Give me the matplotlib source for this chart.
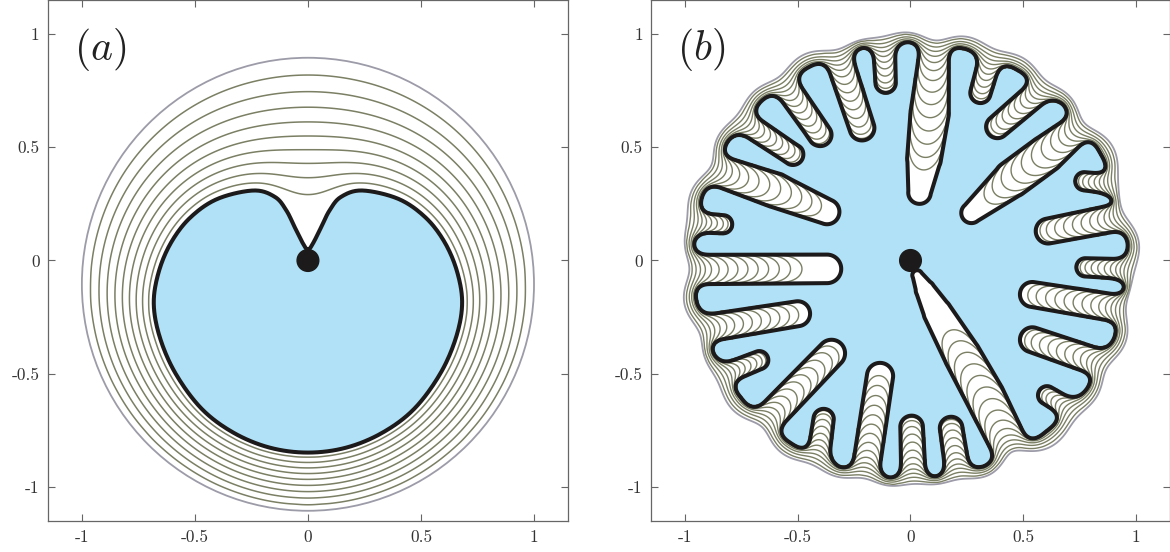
import numpy as np
import matplotlib
matplotlib.use('Agg')
import matplotlib.pyplot as plt
from matplotlib.path import Path
from matplotlib.patches import Circle, Polygon

plt.rcParams['mathtext.fontset'] = 'cm'
plt.rcParams['axes.unicode_minus'] = False

blue = '#b0e1f6'
olive = '#7b7f63'
rim = '#9c9ba8'
ink = '#1c1a1b'

tick_vals = [-1, -0.5, 0, 0.5, 1]
tick_text = ['-1', '-0.5', '0', '0.5', '1']

# (a) right half of the final interface, top of the dip -> bottom; mirrored about x = 0
a_x = [0.0, 0.022, 0.06, 0.095, 0.145, 0.24, 0.40, 0.52, 0.605, 0.66,
       0.682, 0.655, 0.585, 0.47, 0.33, 0.17, 0.0]
a_y = [0.048, 0.075, 0.15, 0.22, 0.28, 0.309, 0.272, 0.19, 0.08, -0.05,
       -0.19, -0.34, -0.50, -0.655, -0.76, -0.826, -0.848]
a_rim = (0.0, -0.105, 1.0)
a_levels = [0.1, 0.2, 0.3, 0.4, 0.5, 0.6, 0.7, 0.8, 0.9]

# (b) white fingers: tip -> ... -> mouth, with half widths
b_fx = [[0.04, 0.06, 0.085, 0.10, 0.11], [-0.11, -0.12], [-0.215, -0.34], [-0.40, -0.58],
        [-0.52, -0.78], [-0.37, -0.60, -0.92], [-0.83, -1.0], [-0.37, -1.0],
        [-0.50, -0.97], [-0.67, -0.87], [-0.35, -0.68], [-0.385, -0.42],
        [-0.135, -0.21], [0.005, 0.015], [0.18, 0.22], [0.03, 0.065, 0.12, 0.23, 0.33, 0.46],
        [0.605, 0.78], [0.54, 0.92], [0.54, 0.97], [0.775, 1.0], [0.61, 0.97],
        [0.77, 0.95], [0.27, 0.45, 0.60, 0.76], [0.385, 0.62], [0.31, 0.37]]
b_fy = [[0.30, 0.45, 0.65, 0.85, 1.0], [0.785, 1.0], [0.585, 0.96], [0.555, 0.81],
        [0.467, 0.64], [0.215, 0.31, 0.42], [0.16, 0.17], [-0.037, -0.04],
        [-0.235, -0.31], [-0.44, -0.52], [-0.41, -0.75], [-0.70, -0.95],
        [-0.51, -1.0], [-0.735, -1.0], [-0.74, -1.0], [-0.065, -0.13, -0.23, -0.42, -0.60, -0.86],
        [-0.595, -0.70], [-0.35, -0.48], [-0.15, -0.22], [-0.03, -0.04], [0.13, 0.20],
        [0.35, 0.33], [0.21, 0.36, 0.47, 0.60], [0.59, 0.79], [0.74, 0.95]]
b_fw = [[0.05, 0.075, 0.085, 0.07, 0.06], [0.045, 0.05], [0.055, 0.06], [0.05, 0.055],
        [0.045, 0.05], [0.055, 0.075, 0.065], [0.04, 0.045], [0.063, 0.065],
        [0.055, 0.06], [0.04, 0.045], [0.06, 0.065], [0.045, 0.05],
        [0.058, 0.06], [0.05, 0.055], [0.05, 0.055], [0.022, 0.042, 0.062, 0.08, 0.085, 0.08],
        [0.04, 0.045], [0.055, 0.06], [0.055, 0.06], [0.04, 0.045], [0.055, 0.06],
        [0.04, 0.045], [0.045, 0.08, 0.08, 0.06], [0.05, 0.055], [0.045, 0.05]]
b_radius = 0.965
b_rim_r = 1.005
b_levels = [0.8, 0.6, 0.42, 0.27, 0.15, 0.07, 0.028, 0.01, 0.0035, 0.0012,
            4e-4, 1.3e-4, 4e-5, 1.2e-5]

dot_r = 0.048
LIM = 1.15


def catmull(px, py, m=16):
    P = np.column_stack([px, py])
    n = len(P)
    t = np.linspace(0, 1, m, endpoint=False)[:, None]
    out = []
    for i in range(n):
        p0, p1, p2, p3 = P[i - 1], P[i], P[(i + 1) % n], P[(i + 2) % n]
        out.append(0.5 * (2 * p1 + (p2 - p0) * t + (2 * p0 - 5 * p1 + 4 * p2 - p3) * t ** 2
                          + (3 * p1 - p0 - 3 * p2 + p3) * t ** 3))
    out = np.vstack(out)
    return np.vstack([out, out[:1]])


def smin(a, b, k):
    h = np.clip(0.5 + 0.5 * (b - a) / k, 0, 1)
    return b * (1 - h) + a * h - k * h * (1 - h)


def finger_sdf(X, Y, xs, ys, ws):
    d = np.full(X.shape, np.inf)
    for k in range(len(xs) - 1):
        vx, vy = xs[k + 1] - xs[k], ys[k + 1] - ys[k]
        t = np.clip(((X - xs[k]) * vx + (Y - ys[k]) * vy) / (vx * vx + vy * vy), 0, 1)
        dist = np.hypot(X - xs[k] - t * vx, Y - ys[k] - t * vy) - (ws[k] + t * (ws[k + 1] - ws[k]))
        d = np.minimum(d, dist)
    return d


def field_b(X, Y):
    # > 0 inside the blue region
    w = b_radius - np.hypot(X, Y)
    for xs, ys, ws in zip(b_fx, b_fy, b_fw):
        w = smin(w, finger_sdf(X, Y, xs, ys, ws), 0.07)
    return w


def blur(m, sigma, h):
    f = np.fft.fftfreq(m.shape[0], d=h)
    g = np.exp(-2 * (np.pi * sigma) ** 2 * (f[:, None] ** 2 + f[None, :] ** 2))
    return np.real(np.fft.ifft2(np.fft.fft2(m) * g))


def upsample(a, n):
    x0 = np.linspace(0, 1, a.shape[0])
    x1 = np.linspace(0, 1, n)
    b = np.array([np.interp(x1, x0, row) for row in a])
    return np.array([np.interp(x1, x0, col) for col in b.T]).T


def sor(phi, free, n_iter):
    n = phi.shape[0]
    om = 2 / (1 + np.sin(np.pi / n))
    ii, jj = np.indices(phi.shape)
    wts = [(free & ((ii + jj) % 2 == c))[1:-1, 1:-1] * om for c in (0, 1)]
    inner = phi[1:-1, 1:-1]
    for _ in range(n_iter):
        for w in wts:
            r = 0.25 * (phi[:-2, 1:-1] + phi[2:, 1:-1] + phi[1:-1, :-2] + phi[1:-1, 2:]) - inner
            inner += w * r


def harmonic(inside, outside, sizes=(101, 201, 401), iters=(700, 500, 900)):
    phi = None
    for n, it in zip(sizes, iters):
        g = np.linspace(-LIM, LIM, n)
        X, Y = np.meshgrid(g, g)
        pts = np.column_stack([X.ravel(), Y.ravel()])
        inn = inside(X, Y, pts)
        out = outside(X, Y, pts)
        phi = np.where(out, 1.0, 0.5) if phi is None else upsample(phi, n)
        phi[inn] = 0.0
        phi[out] = 1.0
        sor(phi, ~(inn | out), it)
    return X, Y, phi


def dress(ax, label):
    ax.set_xlim(-LIM, LIM)
    ax.set_ylim(-LIM, LIM)
    ax.set_xticks(tick_vals)
    ax.set_xticklabels(tick_text, fontfamily='cmr10')
    ax.set_yticks(tick_vals)
    ax.set_yticklabels(tick_text, fontfamily='cmr10')
    ax.tick_params(direction='in', length=5, width=0.8, color='#666666', top=True, right=True,
                   labelsize=12.5, labelcolor='#333333', pad=6)
    for sp in ax.spines.values():
        sp.set_color('#666666')
        sp.set_linewidth(0.9)
    ax.text(-1.035, 0.93, label, fontsize=30, ha='left', va='center', color='#222222')


fig = plt.figure(figsize=(11.7, 5.52), dpi=100)
ax1 = fig.add_axes([0.0410, 0.0562, 0.4444, 0.9438])
ax2 = fig.add_axes([0.5564, 0.0562, 0.4436, 0.9438])

# ---- panel (a)
xs = a_x + [-v for v in a_x[-2:0:-1]]
ys = a_y + a_y[-2:0:-1]
curve_a = catmull(xs, ys)
path_a = Path(curve_a)
cx, cy, cr = a_rim

Xa, Ya, pa = harmonic(lambda X, Y, p: path_a.contains_points(p).reshape(X.shape),
                      lambda X, Y, p: np.hypot(X - cx, Y - cy) >= cr)
ax1.add_patch(Polygon(curve_a, closed=True, facecolor=blue, edgecolor='none', zorder=1))
ax1.contour(Xa, Ya, pa, levels=a_levels, colors=olive, linewidths=1.1, zorder=2)
ax1.add_patch(Circle((cx, cy), cr, fill=False, edgecolor=rim, linewidth=1.3, zorder=2))
ax1.plot(curve_a[:, 0], curve_a[:, 1], color=ink, linewidth=2.9, zorder=3)
ax1.add_patch(Circle((0, 0), dot_r, color=ink, zorder=4))
dress(ax1, r'$(a)$')

# ---- panel (b)
gf = np.linspace(-LIM, LIM, 801)
hf = gf[1] - gf[0]
Xf, Yf = np.meshgrid(gf, gf)
wf = field_b(Xf, Yf)
soft = blur((wf > 0).astype(float), 0.08, hf)
ang = np.linspace(0, 2 * np.pi, 360, endpoint=False)
ci = np.clip(np.round((b_rim_r * np.cos(ang) + LIM) / hf).astype(int), 0, 800)
cj = np.clip(np.round((b_rim_r * np.sin(ang) + LIM) / hf).astype(int), 0, 800)
rim_level = np.median(soft[cj, ci])
cs = ax2.contour(Xf, Yf, soft, levels=[rim_level], colors=rim, linewidths=1.3, zorder=2)
rim_poly = max(cs.get_paths()[0].to_polygons(), key=len)
path_rim = Path(rim_poly)

Xb, Yb, pb = harmonic(lambda X, Y, p: field_b(X, Y) > 0,
                      lambda X, Y, p: ~path_rim.contains_points(p).reshape(X.shape))
ax2.contourf(Xf, Yf, wf, levels=[0, 10], colors=[blue], zorder=1)
ax2.contour(Xb, Yb, pb, levels=sorted(b_levels), colors=olive, linewidths=1.0, zorder=2)
ax2.contour(Xf, Yf, wf, levels=[0], colors=ink, linewidths=2.9, zorder=3)
ax2.add_patch(Circle((0, 0), dot_r, color=ink, zorder=4))
dress(ax2, r'$(b)$')

fig.savefig('out.png', dpi=100)
